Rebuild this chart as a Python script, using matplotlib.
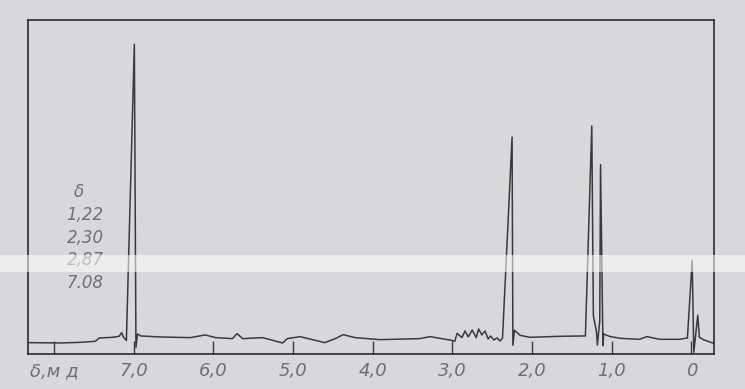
import matplotlib.pyplot as plt
from matplotlib.patches import Rectangle

# спектр ПМР, точки (δ, м.д. ; интенсивность, % высоты рамки)
shift = [8.33, 7.91, 7.66, 7.48, 7.43, 7.26, 7.18, 7.15, 7.13, 7.09,
         6.99, 6.97, 6.95, 6.91, 6.66, 6.29, 6.10, 5.97, 5.76, 5.70,
         5.63, 5.38, 5.13, 5.07, 4.91, 4.60, 4.47, 4.37, 4.22, 3.91,
         3.41, 3.28, 3.01, 2.97, 2.94, 2.88, 2.84, 2.80, 2.75, 2.70,
         2.67, 2.63, 2.59, 2.55, 2.52, 2.48, 2.44, 2.40, 2.37, 2.25,
         2.24, 2.22, 2.15, 2.03, 1.65, 1.34, 1.33, 1.25, 1.23, 1.19,
         1.18, 1.15, 1.14, 1.11, 1.10, 1.03, 0.90, 0.65, 0.56, 0.40,
         0.15, 0.05, -0.01, -0.03, -0.08, -0.10, -0.16, -0.28]
intensity = [3.4, 3.3, 3.5, 3.8, 4.8, 5.0, 5.3, 6.4, 5.2, 4.0,
             92.8, 2.0, 6.0, 5.4, 5.1, 4.9, 5.7, 4.9, 4.6, 6.1,
             4.6, 4.9, 3.3, 4.6, 5.2, 3.4, 4.6, 5.8, 4.9, 4.3,
             4.6, 5.2, 4.1, 3.8, 6.2, 4.9, 6.9, 5.1, 7.2, 4.9,
             7.5, 5.7, 6.9, 4.5, 5.4, 4.2, 4.8, 3.9, 4.8, 65.0,
             2.6, 7.1, 5.6, 5.0, 5.3, 5.4, 5.4, 68.3, 11.4, 6.5,
             2.7, 10.0, 56.7, 2.5, 6.0, 5.3, 4.7, 4.4, 5.2, 4.4,
             4.4, 4.8, 28.1, 0.5, 11.6, 5.0, 4.2, 3.2]

tick_pos = [8, 7, 6, 5, 4, 3, 2, 1, 0]
tick_text = ["δ,м д", "7,0", "6,0", "5,0", "4,0", "3,0", "2,0", "1,0", "0"]
peak_list = ["δ", "1,22", "2,30", "2,87", "7.08"]

bg = '#d8d8da'
ink = '#3a3a3a'
txt = '#707070'
font = ['Liberation Sans Narrow', 'DejaVu Sans']

fig = plt.figure(figsize=(7.45, 3.89), dpi=100, facecolor=bg)
ax = fig.add_axes([0.037, 0.09, 0.921, 0.858], facecolor=bg)

ax.plot(shift, intensity, color=ink, lw=1.1)

ax.set_xlim(8.33, -0.28)
ax.set_ylim(0, 100)
ax.set_xticks(tick_pos)
ax.set_xticklabels(tick_text, family=font, style='italic', fontsize=13, color=txt)
ax.tick_params(axis='x', direction='in', length=9.5, width=1.0, color=ink, pad=6)
ax.set_yticks([])
for s in ax.spines.values():
    s.set_color('#2a2a2a')
    s.set_linewidth(1.2)

for i, t in enumerate(peak_list):
    x0 = 0.068 if i == 0 else 0.057
    ax.text(x0, 0.485 - i * 0.068, t, transform=ax.transAxes, ha='left', va='center',
            family=font, style='italic', fontsize=12, color=txt)

# светлая полоса от сканирования
fig.patches.append(Rectangle((0, (389 - 272) / 389), 1, 17 / 389, transform=fig.transFigure,
                             facecolor='white', alpha=0.55, edgecolor='none', zorder=10))

plt.savefig('out.png', dpi=100, facecolor=bg)
plt.close()
